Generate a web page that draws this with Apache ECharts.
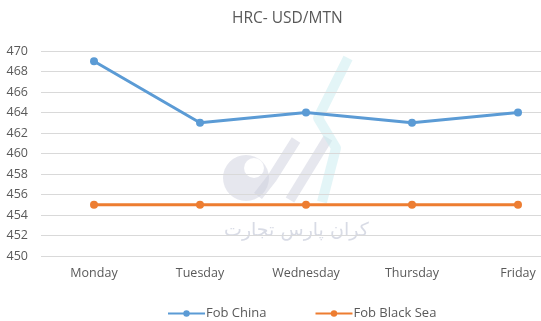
<!DOCTYPE html>
<html><head><meta charset="utf-8">
<script src="https://cdn.jsdelivr.net/npm/echarts@6/dist/echarts.min.js"></script>
<style>html,body{margin:0;padding:0;background:#fff}#c{width:541px;height:321px}</style>
</head><body><div id="c"></div>
<script>
var categories = ['Monday','Tuesday','Wednesday','Thursday','Friday'];
var fobChina = [469, 463, 464, 463, 464];
var fobBlackSea = [455, 455, 455, 455, 455];
var yTicks = {min: 450, max: 470, interval: 2};

var chart = echarts.init(document.getElementById('c'));
var txt = '#595959';
var font = 'Open Sans';
var gray = 'rgba(205,208,222,0.5)';
var cyan = 'rgba(200,236,240,0.5)';
chart.setOption({
  animation: false,
  title: {text: 'HRC- USD/MTN', left: 227, top: 6,
    textStyle: {fontFamily: font, fontSize: 15.5, fontWeight: 'normal', color: txt}},
  graphic: [
    {type: 'circle', shape: {cx: 246, cy: 178, r: 23}, style: {fill: gray}, z: 0, silent: true},
    {type: 'circle', shape: {cx: 254, cy: 168, r: 10}, style: {fill: '#fff'}, z: 0, silent: true},
    {type: 'polyline', shape: {points: [[258,196],[272,178],[296,140]]}, style: {stroke: gray, lineWidth: 10, fill: null}, z: 0, silent: true},
    {type: 'polyline', shape: {points: [[290,200],[328,138]]}, style: {stroke: gray, lineWidth: 10, fill: null}, z: 0, silent: true},
    {type: 'polyline', shape: {points: [[348,58],[318,118],[336,148],[322,202]]}, style: {stroke: cyan, lineWidth: 10, fill: null, lineJoin: 'round'}, z: 0, silent: true},
    {type: 'text', left: 224, top: 222, style: {text: 'کران پارس تجارت', fontFamily: 'DejaVu Sans', fontSize: 19, fill: 'rgba(195,200,215,0.65)'}, z: 0, silent: true}
  ],
  grid: {left: 41, top: 51, right: -30, height: 205, containLabel: false, outerBoundsMode: 'none'},
  legend: {
    top: 302, left: 162, itemGap: 48, itemWidth: 37, itemHeight: 8,
    textStyle: {fontFamily: font, fontSize: 13, color: txt, padding: [0,0,0,-4]},
    data: ['Fob China', 'Fob Black Sea']
  },
  xAxis: {
    type: 'category', data: categories, boundaryGap: true,
    axisLine: {show: false}, axisTick: {show: false},
    axisLabel: {fontFamily: font, fontSize: 12.5, color: txt, margin: 11}
  },
  yAxis: {
    type: 'value', min: yTicks.min, max: yTicks.max, interval: yTicks.interval,
    axisLine: {show: false}, axisTick: {show: false},
    axisLabel: {fontFamily: font, fontSize: 12.5, color: txt, margin: 13},
    splitLine: {lineStyle: {color: '#d9d9d9', width: 1}}
  },
  series: [
    {name: 'Fob China', type: 'line', data: fobChina, symbol: 'circle', symbolSize: 8,
      lineStyle: {color: '#5B9BD5', width: 3}, itemStyle: {color: '#5B9BD5'}, z: 3},
    {name: 'Fob Black Sea', type: 'line', data: fobBlackSea, symbol: 'circle', symbolSize: 8,
      lineStyle: {color: '#ED7D31', width: 3}, itemStyle: {color: '#ED7D31'}, z: 3}
  ]
});
</script></body></html>
